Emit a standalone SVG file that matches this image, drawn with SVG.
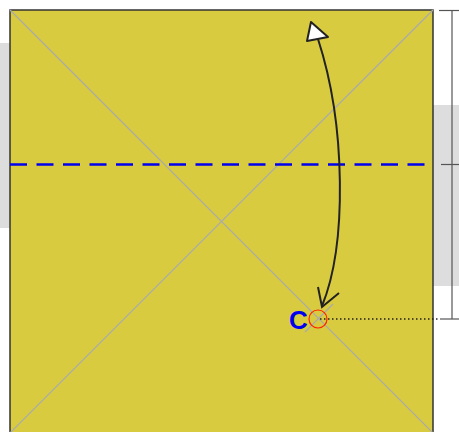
<svg xmlns="http://www.w3.org/2000/svg" width="459" height="432" viewBox="0 0 459 432">
<style>
.gray{fill:#dddddd}
.diag{stroke:#aaaaaa;stroke-width:1.2;fill:none}
.dim{stroke:#555555;stroke-width:1.2;fill:none}
.arrow{stroke:#222222;stroke-width:2;fill:none}
</style>
<rect width="459" height="432" fill="#ffffff"/>
<g id="backgrounds">
<rect class="gray" x="0" y="43" width="12" height="185"/>
<rect class="gray" x="432" y="105" width="27" height="181"/>
</g>
<g id="paper">
<rect x="10" y="10" width="423" height="430" fill="#d9cb3f" stroke="#333333" stroke-width="1.5"/>
<line class="diag" x1="10" y1="10" x2="433" y2="433"/>
<line class="diag" x1="433" y1="10" x2="10" y2="433"/>
<line class="diag" x1="305" y1="332" x2="333" y2="304"/>
</g>
<g id="fold-line">
<line x1="10" y1="164.5" x2="433" y2="164.5" stroke="#0000ee" stroke-width="2.5" stroke-dasharray="17 9.5"/>
</g>
<g id="dimension">
<line class="dim" x1="452" y1="10" x2="452" y2="319"/>
<line class="dim" x1="439" y1="10.5" x2="459" y2="10.5"/>
<line class="dim" x1="441" y1="164.5" x2="459" y2="164.5"/>
<line class="dim" x1="440" y1="319" x2="459" y2="319"/>
<line x1="320" y1="319" x2="440" y2="319" stroke="#222222" stroke-width="1.5" stroke-dasharray="1.5 2.5"/>
</g>
<g id="point-C">
<circle cx="318" cy="319" r="9" fill="none" stroke="#ff2200" stroke-width="1.2"/>
<text x="289" y="329" font-family="Liberation Sans, Arial, sans-serif" font-weight="bold" font-size="26" fill="#0000ee">C</text>
</g>
<g id="connectors">
<path class="arrow" d="M322,306 C347,245 346,125 318,39"/>
<polyline class="arrow" points="318,287 322,307 339,293"/>
<polygon points="311,22 307,41 328,37" fill="#ffffff" stroke="#222222" stroke-width="2" stroke-linejoin="round"/>
</g>
</svg>
